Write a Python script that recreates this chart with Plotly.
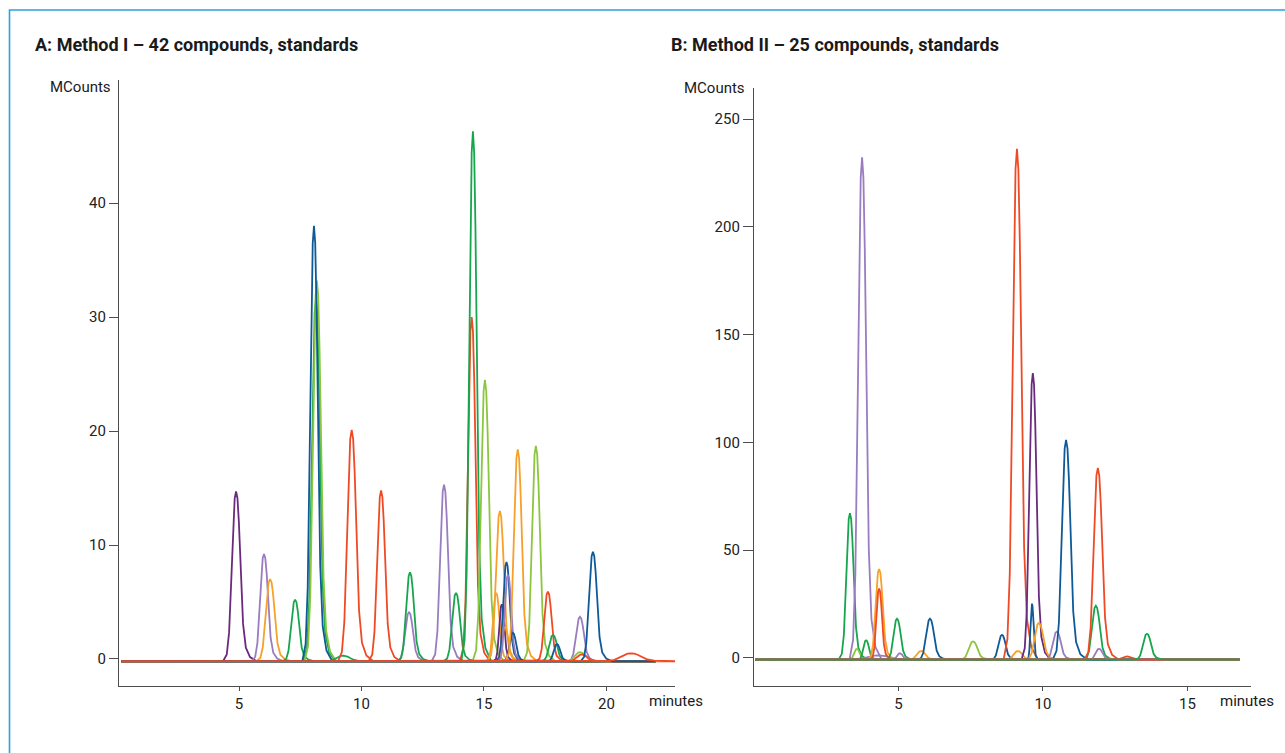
import plotly.graph_objects as go

# ---------------- data ----------------
# Panel A: Method I - retention time (min), apex height (MCounts), FWHM (min), colour key
a_times   = [4.88, 6.02, 6.27, 7.29, 8.14, 8.18, 8.06, 9.25, 9.60, 10.80, 11.94, 11.98, 13.37, 13.86,
             14.50, 14.55, 15.04, 15.50, 15.65, 15.73, 15.86, 15.92, 15.98, 16.18, 16.38, 17.12,
             17.61, 17.82, 17.98, 18.92, 18.92, 19.00, 19.45, 21.00]
a_heights = [14.9, 9.4, 7.2, 5.4, 31.8, 33.4, 38.2, 0.5, 20.3, 15.0, 4.3, 7.8, 15.5, 6.0,
             30.2, 46.5, 24.7, 6.0, 13.2, 5.0, 3.0, 8.7, 7.6, 2.5, 18.6, 18.9,
             6.1, 2.3, 1.5, 3.9, 0.8, 0.6, 9.6, 0.7]
a_widths  = [0.38, 0.36, 0.40, 0.36, 0.36, 0.36, 0.34, 0.60, 0.40, 0.36, 0.36, 0.36, 0.36, 0.36,
             0.34, 0.34, 0.36, 0.30, 0.36, 0.24, 0.30, 0.30, 0.30, 0.30, 0.36, 0.36,
             0.34, 0.36, 0.30, 0.36, 0.48, 0.48, 0.36, 0.90]
a_colors  = ["dpurple", "lpurple", "orange", "green", "green", "lgreen", "dblue", "green", "red", "red",
             "lpurple", "green", "lpurple", "green", "red", "green", "lgreen", "orange", "orange",
             "dpurple", "orange", "dblue", "lpurple", "dblue", "orange", "lgreen", "red", "green",
             "dblue", "lpurple", "lgreen", "red", "dblue", "red"]
a_start, a_end, a_base = 0.2, 22.0, -0.2

# Panel B: Method II
b_times   = [3.32, 3.56, 3.74, 3.88, 4.30, 4.33, 4.33, 4.95, 5.05, 5.78, 6.09, 7.58, 8.58,
             9.10, 9.13, 9.62, 9.65, 9.86, 10.48, 10.80, 11.83, 11.90, 11.94, 12.90, 13.60]
b_heights = [68, 5, 233, 9, 2, 42, 33, 19, 3, 4, 19, 8.5, 11.5,
             237, 4, 26, 133, 17, 13, 102, 25, 89, 5, 1.5, 12]
b_widths  = [0.28, 0.22, 0.31, 0.22, 0.85, 0.28, 0.22, 0.28, 0.22, 0.34, 0.31, 0.34, 0.28,
             0.33, 0.34, 0.12, 0.28, 0.34, 0.31, 0.33, 0.31, 0.33, 0.28, 0.34, 0.31]
b_colors  = ["green", "lgreen", "lpurple", "green", "lpurple", "orange", "red", "green", "lpurple",
             "orange", "dblue", "lgreen", "dblue", "red", "orange", "dblue", "dpurple", "orange",
             "lpurple", "dblue", "green", "red", "lpurple", "red", "green"]
b_start, b_end, b_base = 0.05, 16.8, -0.8

# normalised peak profile (offset in FWHM units, fraction of apex)
profile_offsets   = [-1.4, -1.0, -0.75, -0.5, -0.3, -0.15, 0.0, 0.15, 0.3, 0.5, 0.75, 1.05, 1.5, 2.2]
profile_fractions = [0.0, 0.04, 0.17, 0.5, 0.8, 0.96, 1.0, 0.96, 0.82, 0.52, 0.22, 0.08, 0.025, 0.0]

a_xticks = [5, 10, 15, 20]
a_yticks = [0, 10, 20, 30, 40]
b_xticks = [5, 10, 15]
b_yticks = [0, 50, 100, 150, 200, 250]

# ---------------- styling ----------------
palette = {
    "dpurple": "#6A2B7E",
    "lpurple": "#9A7CC1",
    "orange":  "#F7A02A",
    "green":   "#17A64E",
    "dblue":   "#0E5A98",
    "lgreen":  "#8CC63E",
    "red":     "#F04A24",
}
W, H = 1285, 753
FONT = "Roboto, Liberation Sans, sans-serif"

def px_x(p):
    return p / W

def px_y(p):
    return 1 - p / H

fig = go.Figure()

def add_panel(times, heights, widths, colors, start, end, base, xa, ya):
    for t, h, w, c in zip(times, heights, widths, colors):
        xs = [start] + [t + o * w for o in profile_offsets] + [end]
        ys = [base] + [base + f * h for f in profile_fractions] + [base]
        fig.add_trace(go.Scatter(x=xs, y=ys, mode="lines", xaxis=xa, yaxis=ya,
                                 line=dict(color=palette[c], width=1.8),
                                 hoverinfo="skip", showlegend=False))

add_panel(a_times, a_heights, a_widths, a_colors, a_start, a_end, a_base, "x", "y")
add_panel(b_times, b_heights, b_widths, b_colors, b_start, b_end, b_base, "x2", "y2")

axis_common = dict(showline=True, linecolor="#4d4d4d", linewidth=1.3, showgrid=False,
                   zeroline=False, ticks="outside", tickcolor="#4d4d4d", tickwidth=1.2,
                   tickfont=dict(family=FONT, size=15, color="#222"))

fig.update_layout(
    width=W, height=H,
    margin=dict(l=0, r=0, t=0, b=0),
    paper_bgcolor="white", plot_bgcolor="white",
    xaxis=dict(domain=[px_x(119), px_x(675)], range=[0.1, 22.8], anchor="y",
               tickvals=a_xticks, ticklen=4, **axis_common),
    yaxis=dict(domain=[px_y(686), px_y(80)], range=[-2.37, 50.8], anchor="x",
               tickvals=a_yticks, ticklen=9, **axis_common),
    xaxis2=dict(domain=[px_x(754), px_x(1251)], range=[0, 17.2], anchor="y2",
                tickvals=b_xticks, ticklen=4, **axis_common),
    yaxis2=dict(domain=[px_y(686), px_y(88)], range=[-13.0, 264.4], anchor="x2",
                tickvals=b_yticks, ticklen=10, **axis_common),
)

def text(s, x, y, size, bold=False, xanchor="left"):
    fig.add_annotation(text=("<b>%s</b>" % s) if bold else s, x=px_x(x), y=px_y(y),
                       xref="paper", yref="paper", xanchor=xanchor, yanchor="middle",
                       showarrow=False, font=dict(family=FONT, size=size, color="#1a1a1a"))

text("A: Method I – 42 compounds, standards", 33, 45, 18, bold=True)
text("B: Method II – 25 compounds, standards", 669, 45, 18, bold=True)
text("MCounts", 113, 87, 15, xanchor="right")
text("MCounts", 747, 88, 15, xanchor="right")
text("minutes", 676, 701, 15, xanchor="center")
text("minutes", 1247, 701, 15, xanchor="center")

# light blue frame (top and left edges)
fig.add_shape(type="path", xref="paper", yref="paper",
              path="M %f,%f L %f,%f L %f,%f" % (px_x(9.5), 0, px_x(9.5), px_y(10), 1, px_y(10)),
              line=dict(color="#2BA3DC", width=1.6))

fig.write_html("out.html")
